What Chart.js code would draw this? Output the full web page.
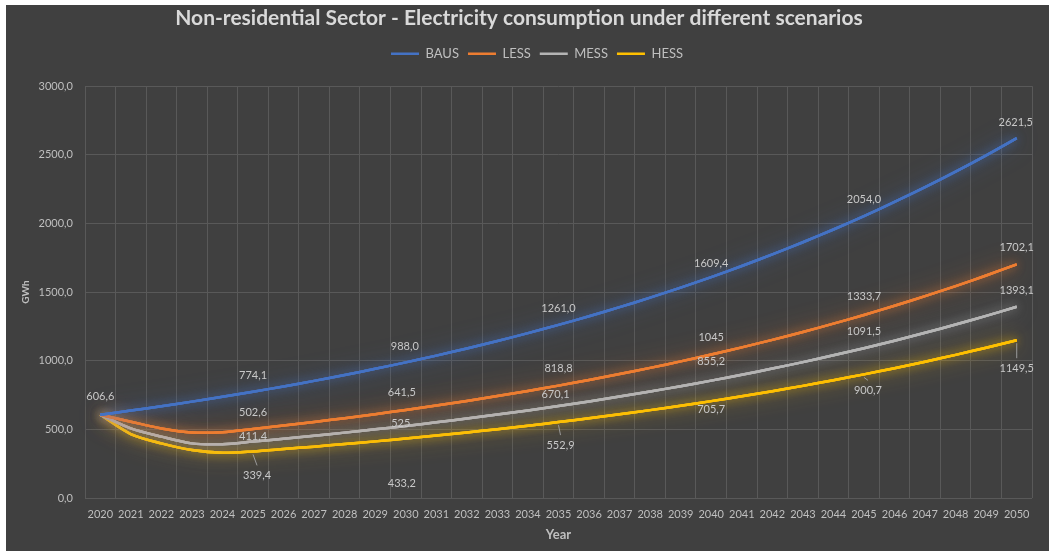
<!DOCTYPE html>
<html>
<head>
<meta charset="utf-8">
<script src="https://cdn.jsdelivr.net/npm/chart.js@4.4.0/dist/chart.umd.min.js"></script>
<style>
  html, body { margin: 0; padding: 0; background: #ffffff; }
  #frame { position: absolute; left: 6px; top: 5px; width: 1043px; height: 546px; background: #404040; }
  canvas { display: block; }
</style>
</head>
<body>
<div id="frame"><canvas id="chart" width="1043" height="546"></canvas></div>
<script>
// Years on the horizontal axis
const years = ['2020','2021','2022','2023','2024','2025','2026','2027','2028','2029','2030',
               '2031','2032','2033','2034','2035','2036','2037','2038','2039','2040',
               '2041','2042','2043','2044','2045','2046','2047','2048','2049','2050'];

// Electricity consumption (GWh) per scenario
const baus = [606.6, 636.9, 668.8, 702.2, 737.3, 774.1, 812.8, 853.4, 896.1, 940.9, 988.0,
              1037.4, 1089.3, 1143.7, 1200.9, 1261.0, 1324.1, 1390.3, 1459.8, 1532.8, 1609.4,
              1689.9, 1774.4, 1863.1, 1956.2, 2054.0, 2156.7, 2264.5, 2377.7, 2496.6, 2621.5];
const less = [606.6, 556.0, 507.0, 477.0, 478.7, 502.6, 527.7, 554.1, 581.8, 610.9, 641.5,
              673.6, 707.3, 742.6, 779.8, 818.8, 859.7, 902.7, 947.9, 995.3, 1045,
              1097.3, 1152.1, 1209.7, 1270.2, 1333.7, 1400.4, 1470.4, 1543.9, 1621.1, 1702.1];
const mess = [606.6, 507.0, 447.0, 398.0, 392.0, 411.4, 432.0, 453.6, 476.3, 500.1, 525,
              551.3, 578.8, 607.8, 638.1, 670.1, 703.6, 738.8, 775.7, 814.5, 855.2,
              898.0, 942.9, 990.0, 1039.5, 1091.5, 1146.1, 1203.4, 1263.6, 1326.7, 1393.1];
const hess = [606.6, 466.0, 398.0, 350.0, 330.0, 339.4, 356.4, 374.2, 392.9, 412.5, 433.2,
              454.9, 477.6, 501.5, 526.6, 552.9, 580.6, 609.6, 640.1, 672.1, 705.7,
              741.0, 778.0, 816.9, 857.8, 900.7, 945.7, 993.0, 1042.7, 1094.8, 1149.5];

// Vertical axis ticks
const yTicks = [0, 500, 1000, 1500, 2000, 2500, 3000];

// Years carrying a value label, and decimals shown in each label
const labelYears = ['2020','2025','2030','2035','2040','2045','2050'];
const bausDigits = [1, 1, 1, 1, 1, 1, 1];
const lessDigits = [null, 1, 1, 1, 0, 1, 1];
const messDigits = [null, 1, 0, 1, 1, 1, 1];
const hessDigits = [null, 1, 1, 1, 1, 1, 1];

const FONT = 'Lato, "Open Sans", sans-serif';
const fmt = (v, d) => v.toFixed(d).replace('.', ',');

// Label placement relative to the point: [dx, dy, leader line]
const labelPlacement = {
  BAUS: [[0,-18,false],[0,-16,false],[-1,-16,false],[0,-16,false],[0,-14,false],[0,-17,false],[-1,-16,false]],
  LESS: [null,[0,-17,false],[-4,-17,false],[0,-17,false],[0,-17,false],[0,-18,false],[0,-17,false]],
  MESS: [null,[0,-5,false],[-5,-2,false],[-3,-12,false],[0,-19,false],[0,-17,false],[0,-16,false]],
  HESS: [null,[4,24,true],[-4,45,false],[2,23,true],[0,8,false],[4,16,true],[0,28,true]]
};

// Soft halo around every line: a blurred pass under the crisp stroke
const glowPlugin = {
  id: 'lineGlow',
  beforeDatasetDraw(chart, args) {
    const ds = chart.data.datasets[args.index];
    const meta = args.meta;
    const ctx = chart.ctx;
    ctx.save();
    ctx.shadowColor = ds.glowColor;
    ctx.shadowBlur = 22;
    meta.dataset.draw(ctx, chart.chartArea);
    ctx.shadowBlur = 10;
    meta.dataset.draw(ctx, chart.chartArea);
    ctx.restore();
  }
};

// Value labels at five-year steps
const valueLabels = {
  id: 'valueLabels',
  afterDatasetsDraw(chart) {
    const ctx = chart.ctx;
    ctx.save();
    ctx.font = '11px ' + FONT;
    ctx.textAlign = 'center';
    ctx.textBaseline = 'middle';
    chart.data.datasets.forEach((ds, di) => {
      const meta = chart.getDatasetMeta(di);
      const place = labelPlacement[ds.label];
      labelYears.forEach((yr, k) => {
        const d = ds.digits[k];
        if (d === null || !place[k]) return;
        const idx = years.indexOf(yr);
        const pt = meta.data[idx];
        const [dx, dy, leader] = place[k];
        if (leader) {
          ctx.strokeStyle = '#9a9a9a';
          ctx.lineWidth = 1;
          ctx.beginPath();
          ctx.moveTo(pt.x, pt.y + 3);
          ctx.lineTo(pt.x + dx, pt.y + dy - 10);
          ctx.stroke();
        }
        ctx.fillStyle = '#c8c8c8';
        ctx.fillText(fmt(ds.data[idx], d), pt.x + dx, pt.y + dy);
      });
    });
    ctx.restore();
  }
};

// Extra room under the legend and a small shift of its items
const legendSpacing = {
  id: 'legendSpacing',
  beforeInit(chart) {
    const lg = chart.legend;
    const fit = lg.fit;
    lg.fit = function () { fit.call(this); this.height += 16; };
    const draw = lg._draw;
    lg._draw = function () {
      this.left += 18; this.right += 18;
      draw.call(this);
      this.left -= 18; this.right -= 18;
    };
  }
};

const mk = (label, data, color, glow, digits) => ({
  label, data, digits,
  borderColor: color,
  backgroundColor: color,
  glowColor: glow,
  borderWidth: 2.5,
  pointRadius: 0,
  pointHoverRadius: 0,
  tension: 0.3,
  fill: false
});

new Chart(document.getElementById('chart'), {
  type: 'line',
  data: {
    labels: years,
    datasets: [
      mk('BAUS', baus, '#4472C4', 'rgba(68,114,196,0.85)', bausDigits),
      mk('LESS', less, '#ED7D31', 'rgba(237,125,49,0.85)', lessDigits),
      mk('MESS', mess, '#B4B4B4', 'rgba(170,170,170,0.7)', messDigits),
      mk('HESS', hess, '#FFC000', 'rgba(255,192,0,0.85)', hessDigits)
    ]
  },
  options: {
    responsive: false,
    animation: false,
    layout: { padding: { left: 0, right: 17, top: 0, bottom: 0 } },
    plugins: {
      title: {
        display: true,
        text: 'Non-residential Sector - Electricity consumption under different scenarios',
        color: '#d9d9d9',
        font: { family: FONT, size: 21, weight: 'bold' },
        padding: { top: 1, bottom: 7 }
      },
      legend: {
        display: true,
        position: 'top',
        labels: {
          color: '#bfbfbf',
          font: { family: FONT, size: 13 },
          usePointStyle: true,
          pointStyle: 'line',
          pointStyleWidth: 28,
          boxHeight: 12,
          padding: 9
        }
      },
      tooltip: { enabled: false }
    },
    scales: {
      x: {
        offset: true,
        grid: { color: '#595959', offset: true, drawTicks: false },
        border: { display: false },
        ticks: { color: '#bfbfbf', font: { family: FONT, size: 11 }, padding: 10, maxRotation: 0, autoSkip: false },
        title: { display: true, text: 'Year', color: '#bfbfbf', font: { family: FONT, size: 13, weight: 'bold' }, padding: { top: 0, bottom: 8 } },
        afterFit(scale) { scale.height = 53; }
      },
      y: {
        min: 0,
        max: 3000,
        grid: { color: '#595959', drawTicks: false },
        border: { display: false },
        afterBuildTicks(scale) { scale.ticks = yTicks.map(v => ({ value: v })); },
        ticks: {
          color: '#bfbfbf',
          font: { family: FONT, size: 11 },
          padding: 12,
          callback: v => fmt(v, 1)
        },
        title: { display: true, text: 'GWh', color: '#bfbfbf', font: { family: FONT, size: 10, weight: 'bold' }, padding: { top: 14, bottom: 0 } },
        afterFit(scale) { scale.width = 79; }
      }
    }
  },
  plugins: [glowPlugin, valueLabels, legendSpacing]
});
</script>
</body>
</html>
